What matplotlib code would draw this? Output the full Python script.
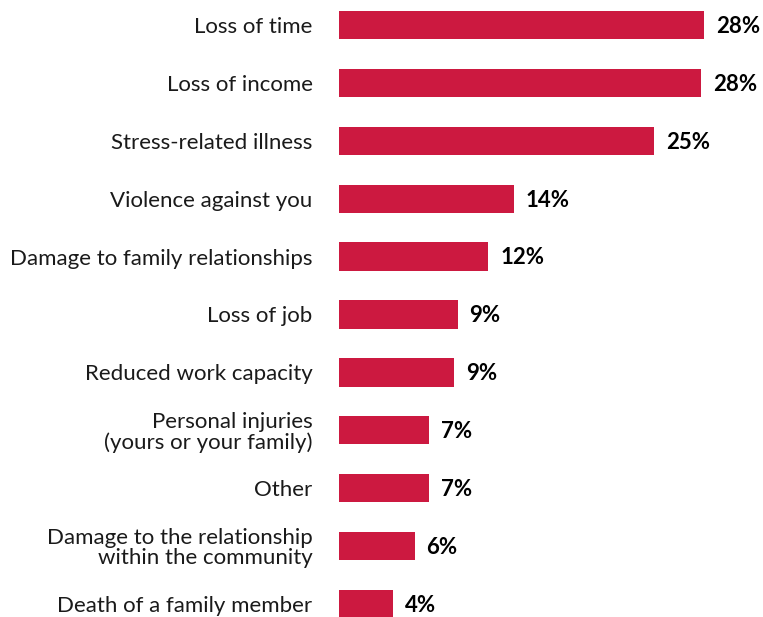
import numpy as np
import matplotlib
matplotlib.use("Agg")
from matplotlib import pyplot as plt


categories = [
    "Loss of time",
    "Loss of income",
    "Stress-related illness",
    "Violence against you",
    "Damage to family relationships",
    "Loss of job",
    "Reduced work capacity",
    "Personal injuries\n(yours or your family)",
    "Other",
    "Damage to the relationship\nwithin the community",
    "Death of a family member",
]
shares = [28.45, 28.19, 24.53, 13.61, 11.63, 9.24, 8.98, 7.01, 7.01, 5.90, 4.21]

BAR_COLOR = "#CC1940"
TEXT_COLOR = "#1a1a1a"

plt.rcParams["font.family"] = ["Lato", "DejaVu Sans"]

fig = plt.figure(figsize=(7.63, 6.17), dpi=100)
ax = fig.add_axes([339 / 763, 0.0, 424 / 763, 1.0])

y = np.arange(len(categories))
ax.barh(y, shares, height=0.49, color=BAR_COLOR)

# one percent is roughly 12.84 px wide
ax.set_xlim(0, 424 / 12.84)
ax.set_ylim(10 + 13 / 57.9, -25 / 57.9)

for yi, v in zip(y, shares):
    ax.annotate(f"{v:.0f}%", xy=(v, yi), xytext=(8.5, -1),
                textcoords="offset points", va="center", ha="left",
                fontsize=16, fontweight="bold", color="black")

ax.set_yticks(y)
ax.set_yticklabels(categories, fontsize=16, color=TEXT_COLOR, linespacing=1.0)
ax.tick_params(axis="y", length=0, pad=19)
ax.set_xticks([])

for side in ["top", "right", "bottom", "left"]:
    ax.spines[side].set_visible(False)

fig.savefig("out.png", dpi=100)
